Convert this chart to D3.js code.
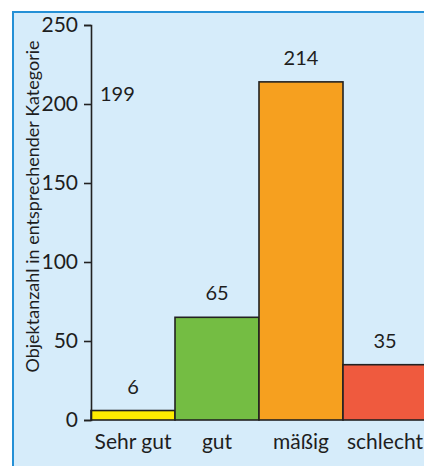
<!DOCTYPE html>
<html>
<head>
<meta charset="utf-8">
<script src="https://cdn.jsdelivr.net/npm/d3@7"></script>
<style>
  html, body { margin: 0; padding: 0; background: #ffffff; }
  svg { display: block; }
  text { font-family: Lato, "Open Sans", sans-serif; fill: #1e1e1e; }
</style>
</head>
<body>
<svg id="chart" width="424" height="466"></svg>
<script>
// Zustandsklassen und Anzahl der Objekte je Klasse
const categories = ["Sehr gut", "gut", "mäßig", "schlecht"];
const counts = [6, 65, 214, 35];
const barColors = ["#ffec00", "#74bd43", "#f6a01f", "#ef5a3e"];
const yTicks = [0, 50, 100, 150, 200, 250];
const extraNote = { text: "199", value: 199 };
const yTitle = "Objektanzahl in entsprechender Kategorie";

const svg = d3.select("#chart");
const W = 424, H = 466;

// Panel background with blue left/top edge
svg.append("rect").attr("x", 13).attr("y", 12).attr("width", W - 13).attr("height", H - 12)
  .attr("fill", "#d6ecfa");
svg.append("line").attr("x1", 13).attr("x2", 13).attr("y1", 11).attr("y2", H)
  .attr("stroke", "#2490d6").attr("stroke-width", 2);
svg.append("line").attr("x1", 12).attr("x2", W).attr("y1", 12).attr("y2", 12)
  .attr("stroke", "#2490d6").attr("stroke-width", 2);

const x = d3.scaleBand().domain(categories).range([91, 427]).padding(0);
const y = d3.scaleLinear().domain([0, 250]).range([420, 25]);

// Bars
svg.append("g").selectAll("rect").data(categories).join("rect")
  .attr("x", d => x(d))
  .attr("y", (d, i) => y(counts[i]))
  .attr("width", x.bandwidth())
  .attr("height", (d, i) => y(0) - y(counts[i]))
  .attr("fill", (d, i) => barColors[i])
  .attr("stroke", "#222")
  .attr("stroke-width", 1.6);

// Value labels
svg.append("g").selectAll("text").data(categories).join("text")
  .attr("x", d => x(d) + x.bandwidth() / 2)
  .attr("y", (d, i) => y(counts[i]) - 17)
  .attr("text-anchor", "middle")
  .attr("font-size", 20)
  .text((d, i) => counts[i]);

svg.append("text")
  .attr("x", x(categories[0]) + 9)
  .attr("y", y(extraNote.value) - 5)
  .attr("font-size", 20)
  .text(extraNote.text);

// Y axis
const yAxis = d3.axisLeft(y).tickValues(yTicks).tickSize(7).tickPadding(6);
const gy = svg.append("g").attr("transform", "translate(91,0)").call(yAxis);
gy.select(".domain").attr("stroke", "#222").attr("stroke-width", 1.6);
gy.selectAll(".tick line").attr("stroke", "#222").attr("stroke-width", 1.6);
gy.selectAll(".tick text").attr("font-size", 21).attr("font-family", "Lato, sans-serif").attr("fill", "#1e1e1e");

// X axis labels
const xAxis = d3.axisBottom(x).tickSize(0).tickPadding(14);
const gx = svg.append("g").attr("transform", "translate(0,420)").call(xAxis);
gx.select(".domain").remove();
gx.selectAll(".tick text").attr("font-size", 21).attr("font-family", "Lato, sans-serif").attr("fill", "#1e1e1e");

// Y axis title
svg.append("text")
  .attr("transform", "translate(39," + ((42 + 371) / 2) + ") rotate(-90)")
  .attr("text-anchor", "middle")
  .attr("font-size", 18)
  .text(yTitle);
</script>
</body>
</html>
